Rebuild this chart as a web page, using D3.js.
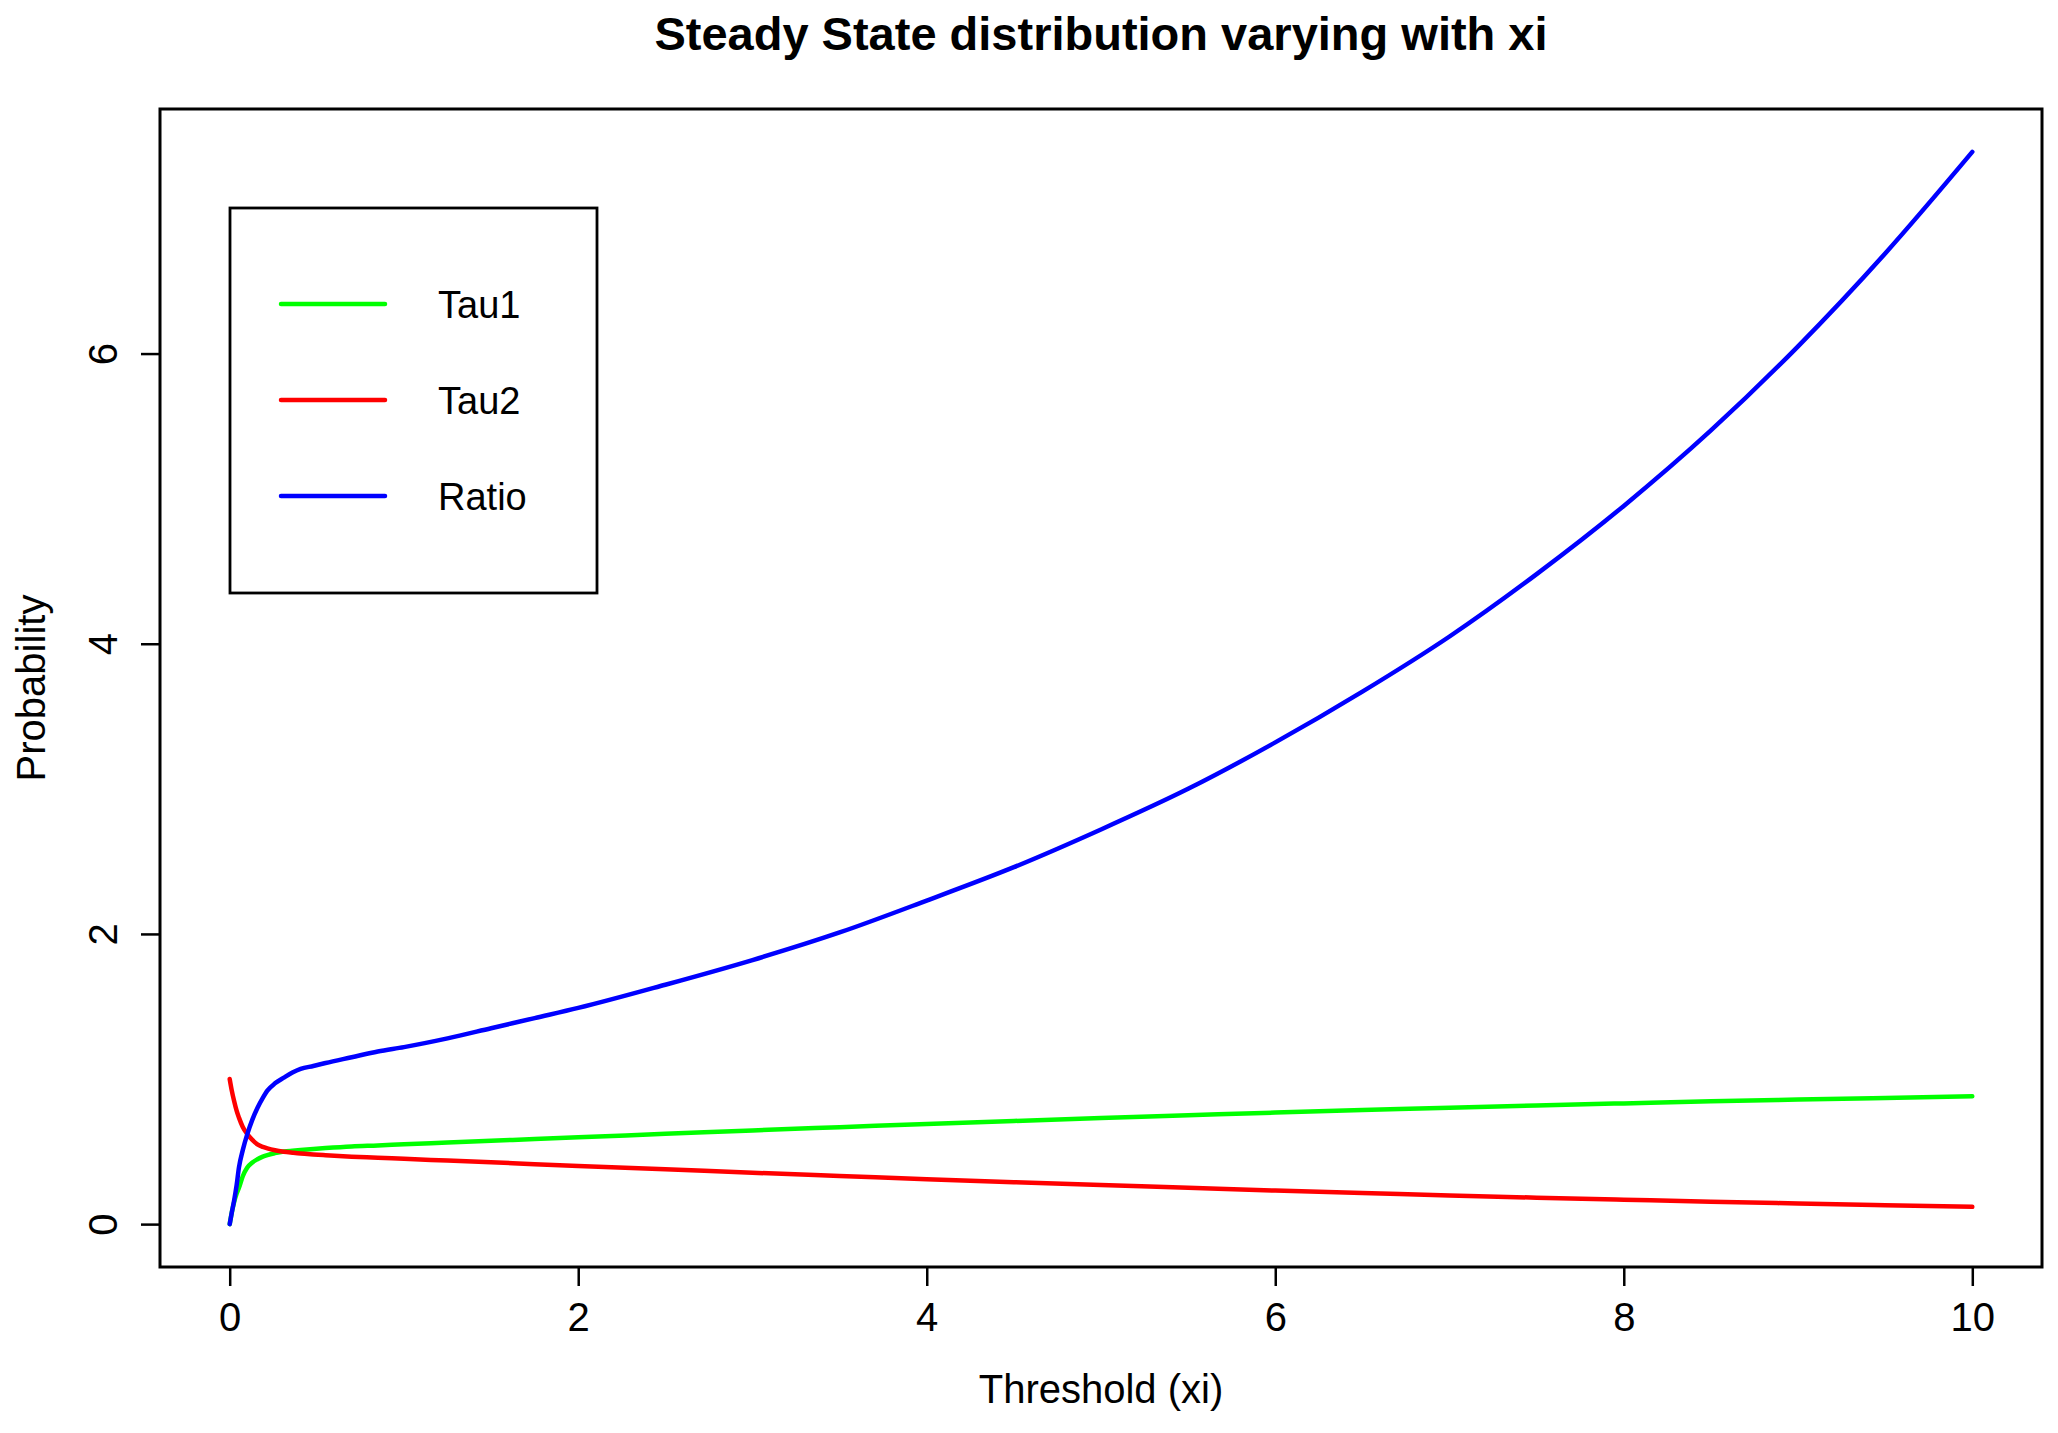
<!DOCTYPE html>
<html>
<head>
<meta charset="utf-8">
<script src="https://cdn.jsdelivr.net/npm/d3@7"></script>
<style>
  html, body { margin: 0; padding: 0; background: #fff; }
  svg { display: block; }
  text { font-family: "Liberation Sans", Arial, Helvetica, sans-serif; fill: #000; }
</style>
</head>
<body>
<svg id="chart" width="2058" height="1433"></svg>
<script>
// ---- data ----
const xs = [0, 0.012, 0.025, 0.04, 0.053, 0.075, 0.101, 0.13, 0.159, 0.19, 0.216, 0.26, 0.311, 0.36, 0.407, 0.48, 0.55, 0.7, 0.85, 1, 1.25, 1.5, 1.75, 2, 2.5, 3, 3.5, 4, 4.5, 5, 5.5, 6, 6.5, 7, 7.5, 8, 8.5, 9, 9.5, 10];
const tau1 = [0, 0.08, 0.15, 0.21, 0.25, 0.33, 0.39, 0.425, 0.447, 0.465, 0.476, 0.489, 0.50, 0.506, 0.511, 0.518, 0.524, 0.535, 0.542, 0.55, 0.562, 0.574, 0.587, 0.599, 0.622, 0.646, 0.668, 0.69, 0.711, 0.731, 0.75, 0.769, 0.786, 0.802, 0.818, 0.832, 0.846, 0.858, 0.87, 0.881];
const tau2 = [1, 0.92, 0.85, 0.78, 0.734, 0.67, 0.62, 0.58, 0.55, 0.532, 0.522, 0.509, 0.499, 0.492, 0.486, 0.480, 0.475, 0.465, 0.458, 0.45, 0.438, 0.426, 0.413, 0.401, 0.378, 0.354, 0.332, 0.31, 0.289, 0.269, 0.25, 0.231, 0.214, 0.198, 0.182, 0.168, 0.154, 0.142, 0.13, 0.119];
const ratio = [0, 0.08, 0.16, 0.27, 0.39, 0.51, 0.62, 0.72, 0.80, 0.87, 0.92, 0.97, 1.01, 1.045, 1.07, 1.09, 1.11, 1.15, 1.19, 1.22, 1.28, 1.35, 1.42, 1.49, 1.65, 1.82, 2.01, 2.23, 2.46, 2.72, 3.00, 3.32, 3.67, 4.05, 4.48, 4.95, 5.47, 6.05, 6.69, 7.39];
const seriesNames = ["Tau1", "Tau2", "Ratio"];
const seriesColors = ["#00ff00", "#ff0000", "#0000ff"];
const xTicks = [0, 2, 4, 6, 8, 10];
const yTicks = [0, 2, 4, 6];
const titleText = "Steady State distribution varying with xi";
const xLabel = "Threshold (xi)";
const yLabel = "Probability";

// ---- layout ----
const plot = { left: 160, right: 2042, top: 109, bottom: 1267 };
const svg = d3.select("#chart");

const xMin = d3.min(xs), xMax = d3.max(xs);
const allY = tau1.concat(tau2, ratio);
const yMin = d3.min(allY), yMax = d3.max(allY);
const xPad = (xMax - xMin) * 0.04, yPad = (yMax - yMin) * 0.04;

const x = d3.scaleLinear().domain([xMin - xPad, xMax + xPad]).range([plot.left, plot.right]);
const y = d3.scaleLinear().domain([yMin - yPad, yMax + yPad]).range([plot.bottom, plot.top]);

// series lines
const seriesData = [tau1, tau2, ratio];
const line = d3.line().x(d => x(d[0])).y(d => y(d[1])).curve(d3.curveMonotoneX);
svg.append("clipPath").attr("id", "clip").append("rect")
  .attr("x", plot.left).attr("y", plot.top)
  .attr("width", plot.right - plot.left).attr("height", plot.bottom - plot.top);
const g = svg.append("g").attr("clip-path", "url(#clip)");
seriesData.forEach((vals, i) => {
  g.append("path")
    .datum(xs.map((xv, j) => [xv, vals[j]]))
    .attr("d", line)
    .attr("fill", "none")
    .attr("stroke", seriesColors[i])
    .attr("stroke-width", 4.5)
    .attr("stroke-linejoin", "round")
    .attr("stroke-linecap", "round");
});

// x axis
const xAxis = d3.axisBottom(x).tickValues(xTicks).tickSize(19).tickPadding(0).tickFormat(d3.format("d"));
const gx = svg.append("g").attr("transform", `translate(0,${plot.bottom})`).call(xAxis);
gx.select(".domain").remove();
gx.selectAll(".tick line").attr("stroke", "#000").attr("stroke-width", 2.5);
gx.selectAll(".tick text")
  .attr("y", 64).attr("dy", null)
  .style("font-size", "40px")
  .style("font-family", '"Liberation Sans", Arial, sans-serif');

// y axis
const yAxis = d3.axisLeft(y).tickValues(yTicks).tickSize(19).tickFormat(d3.format("d"));
const gy = svg.append("g").attr("transform", `translate(${plot.left},0)`).call(yAxis);
gy.select(".domain").remove();
gy.selectAll(".tick line").attr("stroke", "#000").attr("stroke-width", 2.5);
gy.selectAll(".tick text")
  .attr("x", null).attr("dy", null)
  .attr("text-anchor", "middle")
  .attr("transform", "translate(-43,0) rotate(-90)")
  .style("font-size", "40px")
  .style("font-family", '"Liberation Sans", Arial, sans-serif');

// plot frame
svg.append("rect")
  .attr("x", plot.left).attr("y", plot.top)
  .attr("width", plot.right - plot.left).attr("height", plot.bottom - plot.top)
  .attr("fill", "none").attr("stroke", "#000").attr("stroke-width", 3);

// title and axis labels
const cx = (plot.left + plot.right) / 2;
svg.append("text").attr("x", cx).attr("y", 50).attr("text-anchor", "middle")
  .style("font-size", "47px").style("font-weight", "bold").text(titleText);
svg.append("text").attr("x", cx).attr("y", 1403).attr("text-anchor", "middle")
  .style("font-size", "40px").text(xLabel);
svg.append("text")
  .attr("transform", `translate(45,${(plot.top + plot.bottom) / 2}) rotate(-90)`)
  .attr("text-anchor", "middle")
  .style("font-size", "40px").text(yLabel);

// legend
const lg = svg.append("g");
lg.append("rect").attr("x", 230).attr("y", 208).attr("width", 367).attr("height", 385)
  .attr("fill", "#fff").attr("stroke", "#000").attr("stroke-width", 2.8);
const legendY = [304, 400, 496];
seriesNames.forEach((name, i) => {
  lg.append("line").attr("x1", 281).attr("x2", 385).attr("y1", legendY[i]).attr("y2", legendY[i])
    .attr("stroke", seriesColors[i]).attr("stroke-width", 4.5).attr("stroke-linecap", "round");
  lg.append("text").attr("x", 438).attr("y", legendY[i] + 14)
    .style("font-size", "38px").text(name);
});
</script>
</body>
</html>
